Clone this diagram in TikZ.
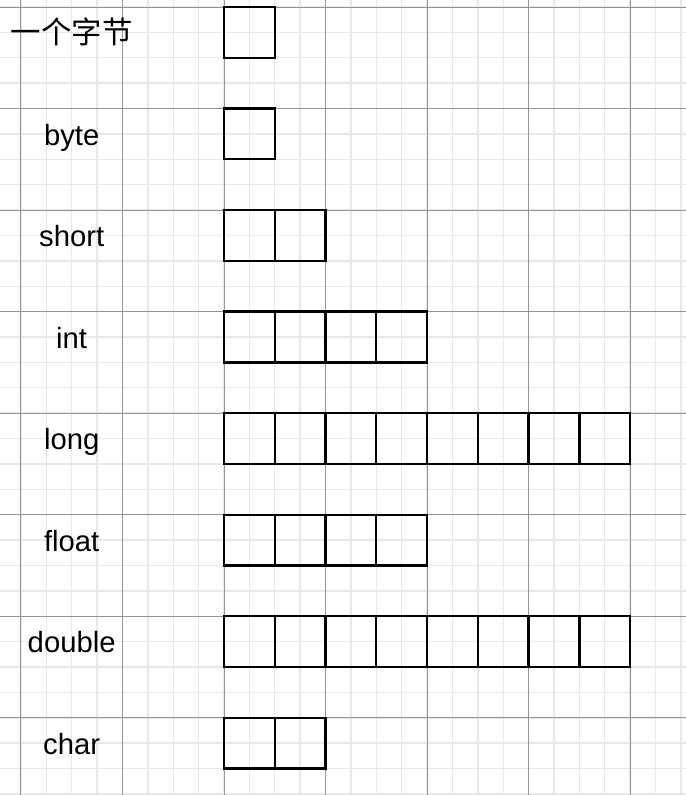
\documentclass[tikz,border=0pt]{standalone}
\usepackage{fontspec}
\setmainfont{Liberation Sans}
\newfontfamily\cjk[Scale=1.04]{Noto Sans CJK SC}

\begin{document}
\begin{tikzpicture}[
    CELL/.style={draw=black,line width=1.3pt,minimum size=1cm,inner sep=0pt,outer sep=0pt},
    TXT/.style={anchor=base,inner sep=0pt,font=\fontsize{16.4}{20}\selectfont},
    GL/.style={draw=black!9,line width=0.8pt},
    GD/.style={draw=black!42,line width=0.55pt}
    ]
    \useasboundingbox (-4.412,-15.521) rectangle (9.100,0.138);
    % grid paper
    \draw [GL,step=0.5] (-4.412,-15.521) grid (9.100,0.138);
    \draw [GD,step=2] (-4.412,-15.521) grid (9.100,0.138);
    % one row per type, one box per byte
    \foreach \lbl/\num [count=\r from 0] in {{\cjk 一个字节}/1,byte/1,short/2,int/4,long/8,float/4,double/8,char/2}{
      \node [TXT] (L\r) at (-3,-2*\r-0.72) {\lbl};
      \foreach \c in {1,...,\num}
        \node [CELL] (B\r-\c) at (\c-0.5,-2*\r-0.5) {};
    }
\end{tikzpicture}
\end{document}
